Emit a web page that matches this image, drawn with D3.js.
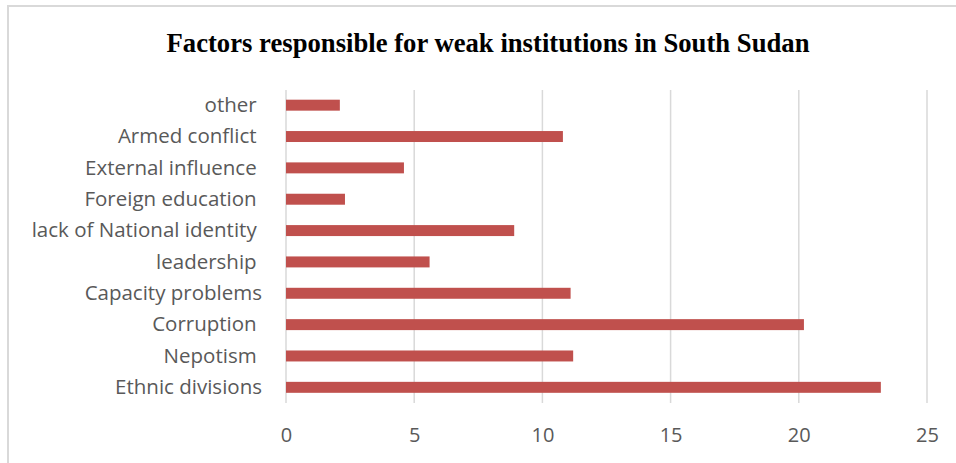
<!DOCTYPE html>
<html>
<head>
<meta charset="utf-8">
<script src="https://cdn.jsdelivr.net/npm/d3@7"></script>
<style>
  body { margin: 0; background: #fff; }
  svg { display: block; }
</style>
</head>
<body>
<script>
// factors, top of chart first (trailing spaces kept as typed in the source sheet)
const factors = ['other ', 'Armed conflict ', 'External influence ', 'Foreign education ',
  'lack of National identity ', 'leadership ', 'Capacity problems', 'Corruption ',
  'Nepotism ', 'Ethnic divisions'];
const counts = [2.1, 10.8, 4.6, 2.3, 8.9, 5.6, 11.1, 20.2, 11.2, 23.2];
const ticks = [0, 5, 10, 15, 20, 25];

const W = 956, H = 463;
const svg = d3.select('body')
  .append('svg')
  .attr('width', W)
  .attr('height', H);

// chart area frame
svg.append('path')
  .attr('d', 'M8,' + (H + 2) + ' L8,6 L' + (W + 2) + ',6')
  .attr('fill', 'none')
  .attr('stroke', '#d9d9d9')
  .attr('stroke-width', 2);

svg.append('text')
  .attr('x', 488)
  .attr('y', 52)
  .attr('text-anchor', 'middle')
  .attr('textLength', 643)
  .attr('lengthAdjust', 'spacingAndGlyphs')
  .style('font-family', '"Liberation Serif", "Times New Roman", serif')
  .style('font-weight', 'bold')
  .style('font-size', '28px')
  .attr('fill', '#000')
  .text('Factors responsible for weak institutions in South Sudan');

const x = d3.scaleLinear().domain([0, 25]).range([286, 927]);
const y = d3.scaleBand().domain(factors).range([89.5, 403]).paddingInner(0.65).paddingOuter(0.325);

// vertical gridlines
svg.append('g')
  .selectAll('line')
  .data(ticks)
  .join('line')
  .attr('x1', d => x(d))
  .attr('x2', d => x(d))
  .attr('y1', 90)
  .attr('y2', 403)
  .attr('stroke', '#d9d9d9')
  .attr('stroke-width', 1.5);

svg.append('g')
  .selectAll('rect')
  .data(counts)
  .join('rect')
  .attr('x', x(0))
  .attr('y', (d, i) => y(factors[i]))
  .attr('width', d => x(d) - x(0))
  .attr('height', y.bandwidth())
  .attr('fill', '#c0504d');

const xAxis = svg.append('g')
  .attr('transform', 'translate(0,403)')
  .call(d3.axisBottom(x).tickValues(ticks).tickSize(0).tickPadding(25));
xAxis.select('.domain').remove();
xAxis.selectAll('text')
  .style('font-family', '"Open Sans", Lato, sans-serif')
  .style('font-size', '20px')
  .attr('fill', '#595959');

const yAxis = svg.append('g')
  .attr('transform', 'translate(286,0)')
  .call(d3.axisLeft(y).tickSize(0).tickPadding(24));
yAxis.select('.domain').remove();
yAxis.selectAll('text')
  .style('font-family', '"Open Sans", Lato, sans-serif')
  .style('font-size', '20.5px')
  .style('white-space', 'pre')
  .attr('fill', '#595959')
  .attr('dy', '0.33em');
</script>
</body>
</html>
